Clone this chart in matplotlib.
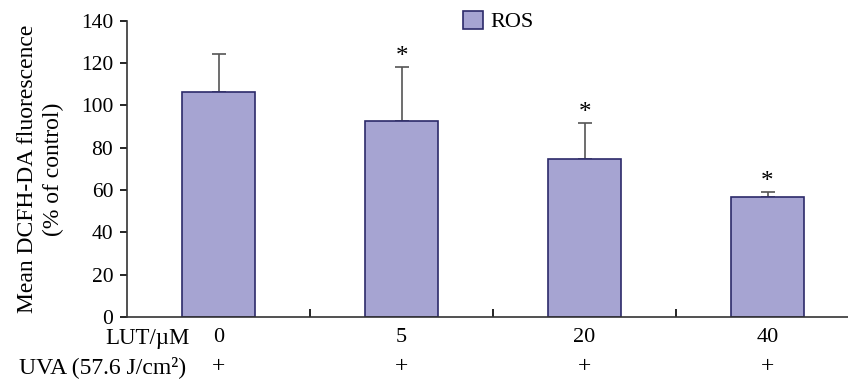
import matplotlib.pyplot as plt

plt.rcParams['font.family'] = ['Liberation Serif', 'DejaVu Serif']

lut = ['0', '5', '20', '40']
uva = ['+', '+', '+', '+']
ros = [106.5, 92.5, 74.5, 56.5]
ros_err = [18, 25.5, 17, 2.5]
signif = ['', '*', '*', '*']

fig = plt.figure(figsize=(8.48, 3.80), dpi=100)
ax = fig.add_axes([0.150, 0.166, 0.850, 0.779])

x = range(len(lut))
ax.bar(x, ros, width=0.4, color='#a6a4d2', edgecolor='#2c2a6a', linewidth=1.2,
       label='ROS', zorder=2)
ax.errorbar(x, ros, yerr=[[0] * len(ros), ros_err], fmt='none', ecolor='#555555',
            elinewidth=1.2, capsize=5, capthick=1.2, zorder=1)
for i, s in enumerate(signif):
    if s:
        ax.annotate(s, (i, ros[i] + ros_err[i]), xytext=(0, 7.5), textcoords='offset points',
                    ha='center', va='center', fontsize=18)

ax.set_xlim(-0.5, 3.44)
ax.set_ylim(0, 140)
ax.set_yticks(range(0, 141, 20))
ax.tick_params(axis='y', labelsize=15.5, direction='out', length=5, width=1.2, pad=5)
ax.set_xticks([0.5, 1.5, 2.5])
ax.set_xticklabels([])
ax.tick_params(axis='x', direction='in', length=6, width=1.2)
for side in ['top', 'right']:
    ax.spines[side].set_visible(False)
for side in ['left', 'bottom']:
    ax.spines[side].set_linewidth(1.2)
    ax.spines[side].set_color('#333333')

ax.set_ylabel('Mean DCFH-DA fluorescence\n(% of control)', fontsize=17, labelpad=12,
              linespacing=1.3)

# rows under the axis
fig.text(0.224, 0.108, 'LUT/\u00b5M', ha='right', va='center', fontsize=16.5)
fig.text(0.220, 0.034, 'UVA (57.6 J/cm\u00b2)', ha='right', va='center', fontsize=17)
for i in x:
    ax.annotate(lut[i], (i, 0), xycoords=('data', 'axes fraction'), xytext=(0, -15),
                textcoords='offset points', ha='center', va='center', fontsize=16)
    ax.annotate(uva[i], (i, 0), xycoords=('data', 'axes fraction'), xytext=(0, -36),
                textcoords='offset points', ha='center', va='center', fontsize=17)

ax.legend(loc='upper center', bbox_to_anchor=(0.515, 1.065), frameon=False, fontsize=16,
          handlelength=0.9, handleheight=0.9, handletextpad=0.3, borderaxespad=0)

fig.savefig('out.png', dpi=100)
